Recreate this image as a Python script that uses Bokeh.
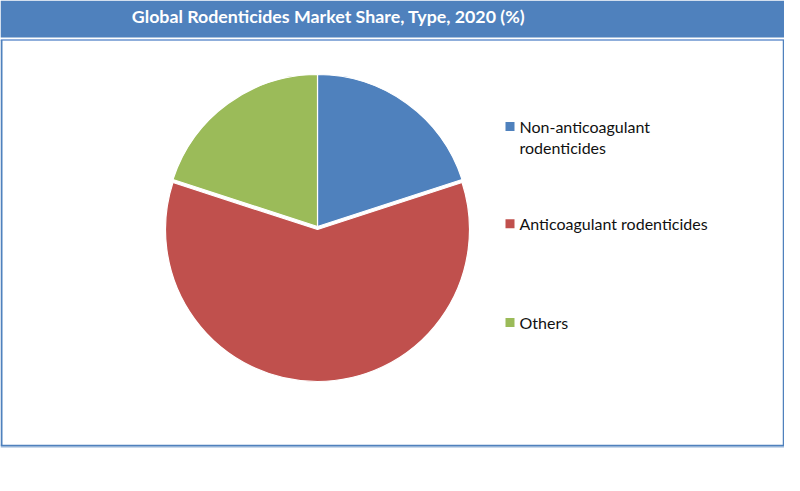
import numpy as np
from bokeh.plotting import figure
from bokeh.models import Range1d, ColumnDataSource
from bokeh.core.properties import value
from bokeh.embed import file_html
from bokeh.resources import INLINE

title = "Global Rodenticides Market Share, Type, 2020 (%)"
categories = ["Non-anticoagulant rodenticides", "Anticoagulant rodenticides", "Others"]
legend_lines = [["Non-anticoagulant", "rodenticides"], ["Anticoagulant rodenticides"], ["Others"]]
shares = [20, 60, 20]
colors = ["#4F81BD", "#C0504D", "#9BBB59"]
explode = [0, 3, 0]

W, H = 784, 475

def Y(img_y):
    return H - img_y

p = figure(width=W, height=H, output_backend="svg", toolbar_location=None,
           x_range=Range1d(0, W), y_range=Range1d(0, H),
           min_border=0, outline_line_color=None, background_fill_color="white",
           border_fill_color="white")
p.axis.visible = False
p.grid.visible = False

# title band
p.quad(left=[0], right=[W], bottom=[Y(37)], top=[Y(0)], fill_color="#4F81BD", line_color=None)
# box border
p.line(x=[0, W], y=[Y(39.5), Y(39.5)], line_color="#8FAEDB", line_width=2)
p.line(x=[1, 1], y=[Y(39.5), Y(445)], line_color="#4F81BD", line_width=2)
p.line(x=[783, 783], y=[Y(39.5), Y(445)], line_color="#4F81BD", line_width=1.5)
p.line(x=[0, W], y=[Y(444.8), Y(444.8)], line_color="#4F81BD", line_width=1.2)
p.line(x=[0, W], y=[Y(446.3), Y(446.3)], line_color="#95B3D7", line_width=1.5)

p.text(x=[328], y=[Y(15.5)], text=[title], text_color="white", text_font=value("Lato"),
       text_font_style="bold", text_font_size="17.8px", text_align="center",
       text_baseline="alphabetic")

# pie
cx, cy, r = 317, Y(226), 152
vals = np.array(shares, dtype=float)
cum = np.concatenate([[0], np.cumsum(vals)]) / vals.sum()
start = np.pi / 2 - 2 * np.pi * cum[:-1]
end = np.pi / 2 - 2 * np.pi * cum[1:]
mid = (start + end) / 2
xs = cx + np.array(explode) * np.cos(mid)
ys = cy + np.array(explode) * np.sin(mid)
src = ColumnDataSource(dict(x=xs, y=ys, start=start, end=end, color=colors, cat=categories))
p.wedge(x="x", y="y", radius=r, start_angle="start", end_angle="end", direction="clock",
        fill_color="color", line_color="white", line_width=1.2, source=src)

# legend
sq_y = [Y(126), Y(223.3), Y(322)]
for i, lines in enumerate(legend_lines):
    p.rect(x=[509.5], y=[sq_y[i]], width=9, height=9, fill_color=colors[i], line_color=None)
    base = sq_y[i] + 0.5
    for j, t in enumerate(lines):
        p.text(x=[519], y=[base - 21.5 * j], text=[t], text_color="#111111",
               text_font=value("Lato"), text_font_size="16px", text_align="left",
               text_baseline="alphabetic")

open("out.html", "w").write(file_html(p, INLINE))
